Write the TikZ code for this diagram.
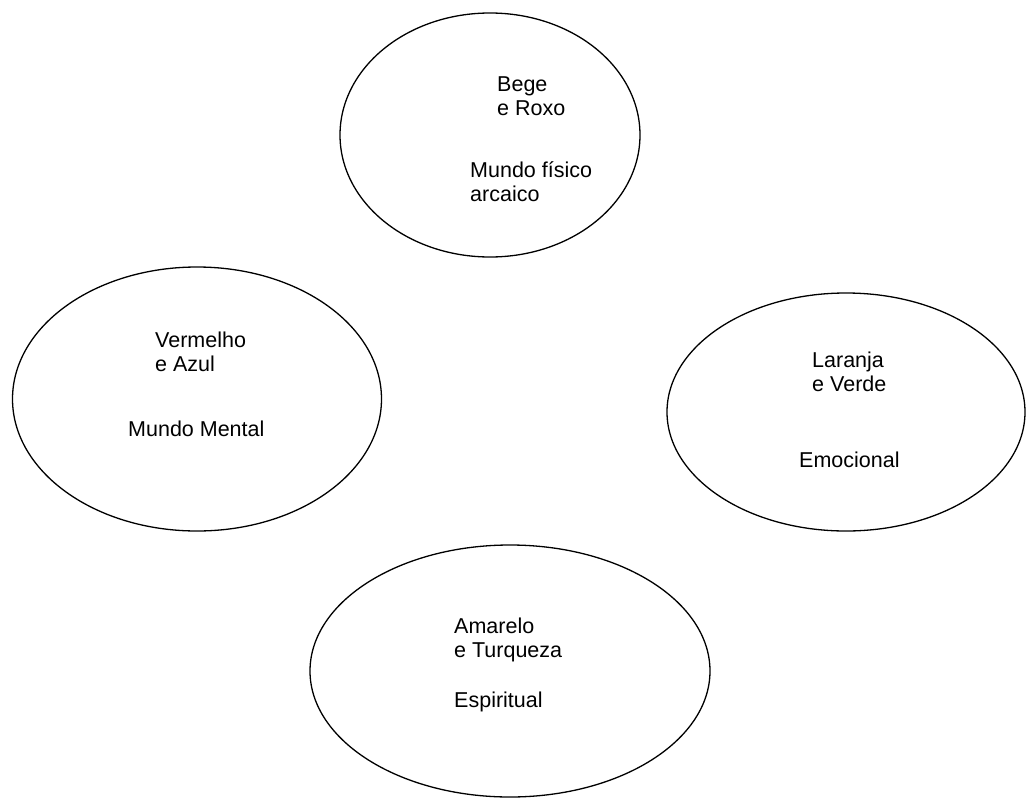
\documentclass[tikz,border=0pt]{standalone}
\usepackage{fontspec}
\setmainfont{Liberation Sans}
\usetikzlibrary{shapes.geometric}
\begin{document}
\begin{tikzpicture}[x=1pt,y=-1pt,
  world/.style={draw=black,line width=1.3pt,ellipse,inner sep=0pt},
  label/.style={anchor=base west,inner sep=0pt,font=\fontsize{21.5}{24}\selectfont,align=left}]
\useasboundingbox (0,0) rectangle (1028,798);
% four spheres
\node[world,minimum width=300pt,minimum height=244pt] (top) at (490,135) {};
\node[world,minimum width=369pt,minimum height=264pt] (left) at (197,399) {};
\node[world,minimum width=358pt,minimum height=238pt] (right) at (846,412) {};
\node[world,minimum width=400pt,minimum height=252pt] (bottom) at (510,671) {};
% texts
\node[label] (t1) at (497,91) {Bege};
\node[label] (t2) at (497,115) {e Roxo};
\node[label] (t3) at (470,177) {Mundo físico};
\node[label] (t4) at (470,201) {arcaico};
\node[label] (l1) at (155,347) {Vermelho};
\node[label] (l2) at (155,371) {e Azul};
\node[label] (l3) at (128,436) {Mundo Mental};
\node[label] (r1) at (812,367) {Laranja};
\node[label] (r2) at (812,391) {e Verde};
\node[label] (r3) at (799,467) {Emocional};
\node[label] (b1) at (454,633) {Amarelo};
\node[label] (b2) at (454,657) {e Turqueza};
\node[label] (b3) at (454,707) {Espiritual};
\end{tikzpicture}
\end{document}
